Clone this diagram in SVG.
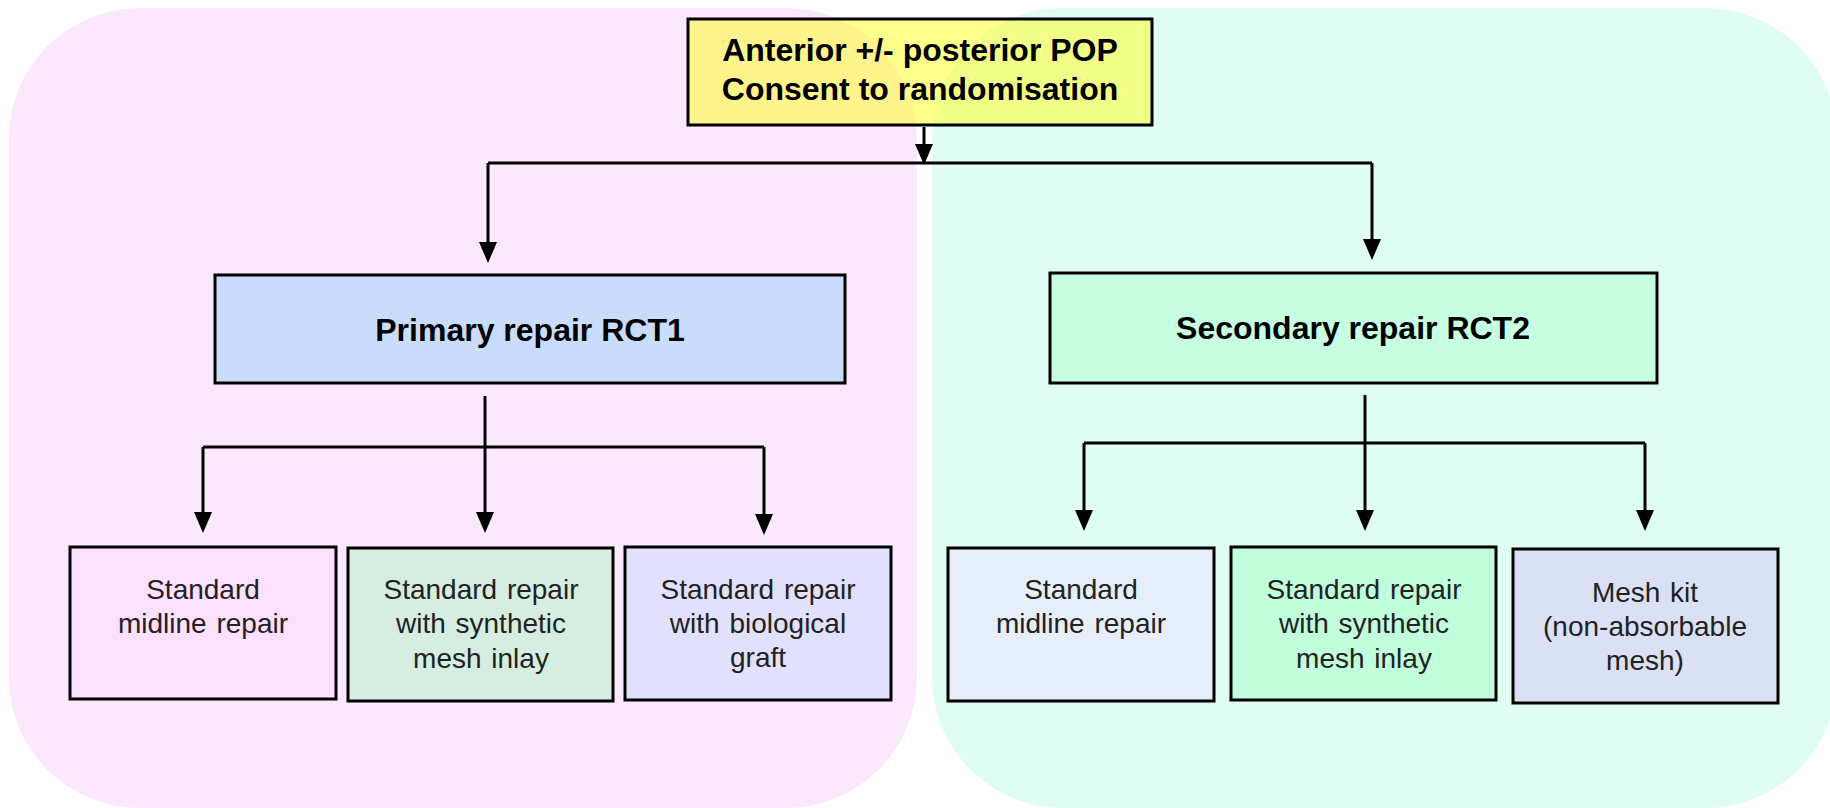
<svg xmlns="http://www.w3.org/2000/svg" width="1830" height="808" viewBox="0 0 1830 808">
<style>
  .box { stroke: #000; stroke-width: 3; }
  .bold { font-family: "Liberation Sans", Arial, sans-serif; font-weight: bold; font-size: 32px; fill: #000; text-anchor: middle; }
  .reg { font-family: "Liberation Sans", Arial, sans-serif; font-size: 28px; fill: #222; text-anchor: middle; word-spacing: 2px; }
  .conn { stroke: #000; stroke-width: 3; fill: none; }
  .arr { stroke: #000; stroke-width: 3; fill: none; marker-end: url(#ah); }
</style>
<defs>
  <marker id="ah" markerUnits="userSpaceOnUse" markerWidth="21" markerHeight="18" refX="17" refY="9" orient="auto">
    <path d="M0,0 L21,9 L0,18 z" fill="#000"/>
  </marker>
</defs>
<rect width="1830" height="808" fill="#ffffff"/>
<g id="backgrounds">
  <rect id="bg-rct1" x="9" y="8" width="908" height="800" rx="131" ry="131" fill="#fce8fc"/>
  <rect id="bg-rct2" x="932" y="8" width="905" height="800" rx="131" ry="131" fill="#e0fdf4"/>
</g>
<g id="connectors">
  <path class="arr" d="M924,127 V161"/>
  <path class="conn" d="M488,163 H1372"/>
  <path class="arr" d="M488,163 V259"/>
  <path class="arr" d="M1372,163 V256"/>
  <path class="arr" d="M485,396 V529"/>
  <path class="conn" d="M203,447 H764"/>
  <path class="arr" d="M203,447 V529"/>
  <path class="arr" d="M764,447 V531"/>
  <path class="arr" d="M1365,395 V527"/>
  <path class="conn" d="M1084,443 H1645"/>
  <path class="arr" d="M1084,443 V527"/>
  <path class="arr" d="M1645,443 V527"/>
</g>
<g id="node-top">
  <rect class="box" x="688" y="19" width="464" height="106" fill="#ffff1a" fill-opacity="0.5"/>
  <text class="bold" x="920" y="61">Anterior +/- posterior POP</text>
  <text class="bold" x="920" y="100">Consent to randomisation</text>
</g>
<g id="node-rct1">
  <rect class="box" x="215" y="275" width="630" height="108" fill="#cadcfc"/>
  <text class="bold" x="530" y="341">Primary repair RCT1</text>
</g>
<g id="node-rct2">
  <rect class="box" x="1050" y="273" width="607" height="110" fill="#c7ffe3"/>
  <text class="bold" x="1353" y="339">Secondary repair RCT2</text>
</g>
<g id="node-l1">
  <rect class="box" x="70" y="547" width="266" height="152" fill="#fde0fd"/>
  <text class="reg" x="203" y="599">Standard</text>
  <text class="reg" x="203" y="633">midline repair</text>
</g>
<g id="node-l2">
  <rect class="box" x="348" y="548" width="265" height="153" fill="#d6eee1"/>
  <text class="reg" x="481" y="599">Standard repair</text>
  <text class="reg" x="481" y="633">with synthetic</text>
  <text class="reg" x="481" y="668">mesh inlay</text>
</g>
<g id="node-l3">
  <rect class="box" x="625" y="547" width="266" height="153" fill="#e1e0fd"/>
  <text class="reg" x="758" y="599">Standard repair</text>
  <text class="reg" x="758" y="633">with biological</text>
  <text class="reg" x="758" y="667">graft</text>
</g>
<g id="node-r1">
  <rect class="box" x="948" y="548" width="266" height="153" fill="#e6eefa"/>
  <text class="reg" x="1081" y="599">Standard</text>
  <text class="reg" x="1081" y="633">midline repair</text>
</g>
<g id="node-r2">
  <rect class="box" x="1231" y="547" width="265" height="153" fill="#c0fedc"/>
  <text class="reg" x="1364" y="599">Standard repair</text>
  <text class="reg" x="1364" y="633">with synthetic</text>
  <text class="reg" x="1364" y="668">mesh inlay</text>
</g>
<g id="node-r3">
  <rect class="box" x="1513" y="549" width="265" height="154" fill="#dae1f7"/>
  <text class="reg" x="1645" y="602">Mesh kit</text>
  <text class="reg" x="1645" y="636">(non-absorbable</text>
  <text class="reg" x="1645" y="670">mesh)</text>
</g>
</svg>
